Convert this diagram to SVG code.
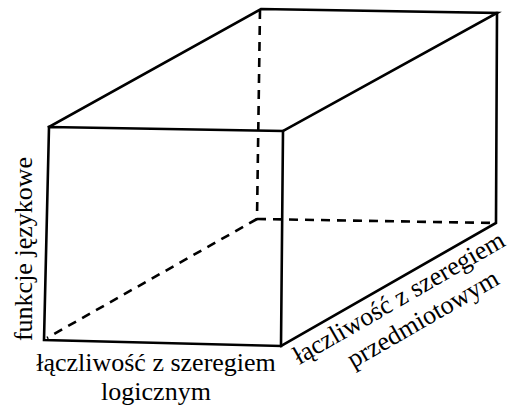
<svg xmlns="http://www.w3.org/2000/svg" width="509" height="406" viewBox="0 0 509 406">
<style>
.edge{fill:none;stroke:#000;stroke-width:2.6;stroke-linecap:square}
.hidden{fill:none;stroke:#000;stroke-width:2.6;stroke-dasharray:9 7}
.lab{font-family:'Liberation Serif',serif;font-size:26px;fill:#000;text-anchor:middle}
</style>
<rect width="509" height="406" fill="#fff"/>
<g id="connectors">
<line class="hidden" x1="260" y1="10" x2="257" y2="219"/>
<line class="hidden" x1="257" y1="219" x2="496" y2="223"/>
<line class="hidden" x1="257" y1="219" x2="47" y2="338"/>
<path class="edge" d="M49,127 L283,131 L281,346 L44,340 Z"/>
<path class="edge" d="M49,127 L261,9 L497,13 L283,131"/>
<path class="edge" d="M497,13 L496,223 L281,346"/>
</g>
<text id="label-vertical" class="lab" font-family="'Liberation Serif', serif" transform="translate(32,249) rotate(-90)">funkcje językowe</text>
<text id="label-bottom-1" class="lab" font-family="'Liberation Serif', serif" x="156" y="371">łączliwość z szeregiem</text>
<text id="label-bottom-2" class="lab" font-family="'Liberation Serif', serif" x="156" y="400">logicznym</text>
<text id="label-right-1" class="lab" font-family="'Liberation Serif', serif" transform="translate(403,305) rotate(-30)">łączliwość z szeregiem</text>
<text id="label-right-2" class="lab" font-family="'Liberation Serif', serif" transform="translate(427,326) rotate(-30)">przedmiotowym</text>
</svg>
